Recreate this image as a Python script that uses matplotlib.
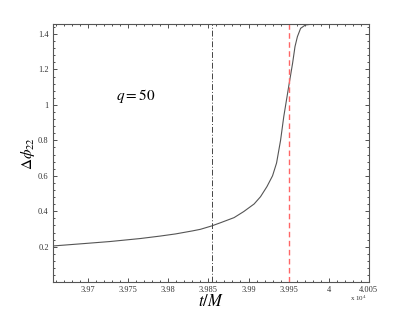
import matplotlib
matplotlib.use("Agg")
import matplotlib.pyplot as plt
from matplotlib.ticker import FuncFormatter, AutoMinorLocator

# data (t in units of M)
t_vals = [39656, 39696, 39727, 39765, 39790, 39809, 39830, 39840, 39854, 39865,
          39882, 39894, 39907, 39915, 39923, 39930, 39935, 39940, 39944, 39950,
          39955, 39958, 39961, 39965, 39971, 39980, 39988]
dphi = [0.204, 0.218, 0.229, 0.246, 0.260, 0.272, 0.289, 0.298, 0.317, 0.335,
        0.364, 0.398, 0.441, 0.482, 0.539, 0.600, 0.672, 0.800, 0.934, 1.10,
        1.235, 1.329, 1.385, 1.432, 1.451, 1.456, 1.456]
t_black = 39854
t_red = 39950.5
xticks = [39700, 39750, 39800, 39850, 39900, 39950, 40000, 40050]
yticks = [0.2, 0.4, 0.6, 0.8, 1.0, 1.2, 1.4]

plt.rcParams['font.family'] = 'Liberation Serif'
plt.rcParams['mathtext.fontset'] = 'stix'

fig = plt.figure(figsize=(4.07, 3.17), dpi=100)
ax = fig.add_axes([0.130, 0.110, 0.776, 0.814])

ax.plot(t_vals, dphi, color='#555555', lw=0.8)
ax.axvline(t_black, color='#444444', lw=0.7, ls=(0, (6, 2, 1, 2)))
ax.axvline(t_red, color='#ff6666', lw=1.0, ls=(0, (4, 2.5)))

ax.set_xlim(39656, 40050)
ax.set_ylim(0, 1.456)
ax.set_xticks(xticks)
ax.set_yticks(yticks)
ax.xaxis.set_major_formatter(FuncFormatter(lambda v, p: '%g' % (v / 1e4)))
ax.yaxis.set_major_formatter(FuncFormatter(lambda v, p: '%g' % v))
ax.xaxis.set_minor_locator(AutoMinorLocator(5))
ax.yaxis.set_minor_locator(AutoMinorLocator(5))
ax.tick_params(which='both', direction='in', top=True, right=True,
               labelsize=6, colors='#333333', width=0.6, pad=3)
ax.tick_params(which='major', length=3)
ax.tick_params(which='minor', length=1.5)
for s in ax.spines.values():
    s.set_color('#555555')
    s.set_linewidth(0.8)

ax.set_xlabel('$t/M$', fontsize=12, labelpad=0)
ax.set_ylabel(r'$\Delta\phi_{22}$', fontsize=11, labelpad=1)
ax.text(39735, 1.05, '$q=50$', fontsize=11, va='center')
ax.text(0.995, -0.045, r'x 10$^4$', transform=ax.transAxes, fontsize=5,
        ha='right', va='top', color='#333333')

fig.savefig('out.png', dpi=100)
